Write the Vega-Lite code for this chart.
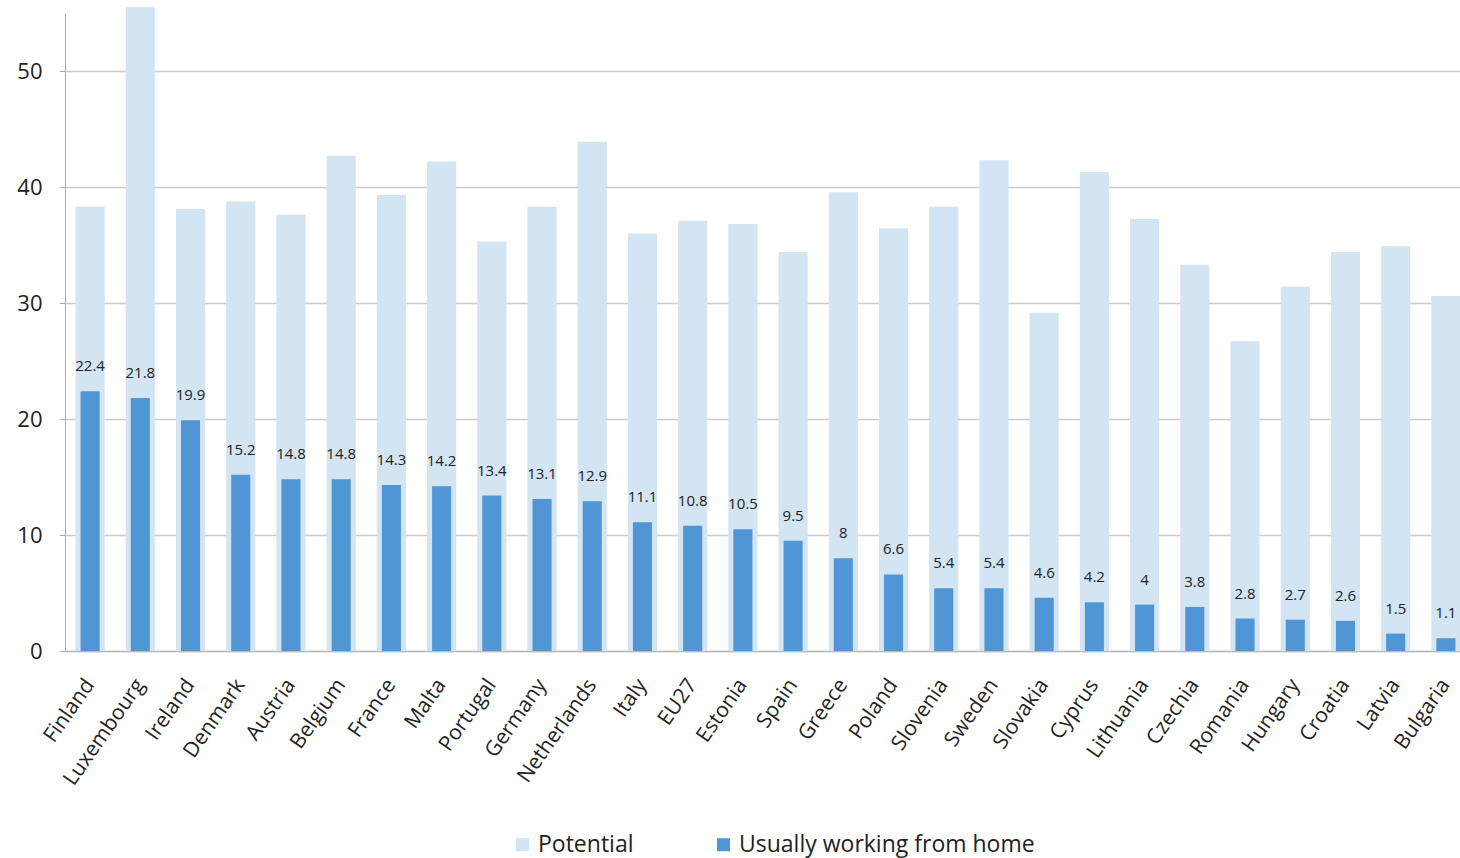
{
  "$schema": "https://vega.github.io/schema/vega-lite/v6.json",
  "autosize": {"type": "none"},
  "padding": {"left": 65, "top": 13, "right": 0, "bottom": 207},
  "width": 1406,
  "height": 638,
  "background": "white",
  "config": {"view": {"stroke": null}},
  "data": {"values": [
    {"country": "Finland", "potential": 38.3, "home": 22.4},
    {"country": "Luxembourg", "potential": 55.5, "home": 21.8},
    {"country": "Ireland", "potential": 38.1, "home": 19.9},
    {"country": "Denmark", "potential": 38.75, "home": 15.2},
    {"country": "Austria", "potential": 37.6, "home": 14.8},
    {"country": "Belgium", "potential": 42.7, "home": 14.8},
    {"country": "France", "potential": 39.3, "home": 14.3},
    {"country": "Malta", "potential": 42.2, "home": 14.2},
    {"country": "Portugal", "potential": 35.3, "home": 13.4},
    {"country": "Germany", "potential": 38.3, "home": 13.1},
    {"country": "Netherlands", "potential": 43.9, "home": 12.9},
    {"country": "Italy", "potential": 36.0, "home": 11.1},
    {"country": "EU27", "potential": 37.1, "home": 10.8},
    {"country": "Estonia", "potential": 36.8, "home": 10.5},
    {"country": "Spain", "potential": 34.4, "home": 9.5},
    {"country": "Greece", "potential": 39.55, "home": 8},
    {"country": "Poland", "potential": 36.45, "home": 6.6},
    {"country": "Slovenia", "potential": 38.3, "home": 5.4},
    {"country": "Sweden", "potential": 42.3, "home": 5.4},
    {"country": "Slovakia", "potential": 29.15, "home": 4.6},
    {"country": "Cyprus", "potential": 41.3, "home": 4.2},
    {"country": "Lithuania", "potential": 37.25, "home": 4},
    {"country": "Czechia", "potential": 33.3, "home": 3.8},
    {"country": "Romania", "potential": 26.7, "home": 2.8},
    {"country": "Hungary", "potential": 31.4, "home": 2.7},
    {"country": "Croatia", "potential": 34.4, "home": 2.6},
    {"country": "Latvia", "potential": 34.9, "home": 1.5},
    {"country": "Bulgaria", "potential": 30.6, "home": 1.1}
  ]},
  "encoding": {
    "x": {
      "field": "country", "type": "nominal", "sort": null, "title": null,
      "scale": {"paddingInner": 0, "paddingOuter": 0},
      "axis": {
        "labelAngle": -55, "labelFont": "Open Sans", "labelFontSize": 21, "labelColor": "#222",
        "labelPadding": 30, "ticks": false, "domainColor": "#bbbbbb", "domainWidth": 1.5
      }
    }
  },
  "layer": [
    {
      "mark": {"type": "bar", "width": {"band": 0.58}},
      "encoding": {
        "y": {
          "field": "potential", "type": "quantitative", "title": null,
          "scale": {"domain": [0, 55], "nice": false},
          "axis": {
            "values": [0, 10, 20, 30, 40, 50], "labelFont": "Open Sans", "labelFontSize": 22,
            "labelColor": "#222", "labelPadding": 17, "tickSize": 6, "tickColor": "#aaaaaa",
            "domainColor": "#aaaaaa", "gridColor": "#cccccc", "gridWidth": 1.5
          }
        },
        "color": {
          "datum": "Potential", "type": "nominal",
          "scale": {"domain": ["Potential", "Usually working from home"], "range": ["#d3e4f3", "#5095d4"]},
          "legend": {
            "title": null, "orient": "none", "direction": "horizontal",
            "legendX": 446, "legendY": 820, "symbolType": "square", "symbolSize": 169,
            "labelFont": "Open Sans", "labelFontSize": 23, "labelColor": "#222", "labelLimit": 600,
            "columnPadding": 78, "labelOffset": 4, "padding": 0
          }
        }
      }
    },
    {
      "mark": {"type": "bar", "width": {"band": 0.38}},
      "encoding": {
        "y": {"field": "home", "type": "quantitative"},
        "color": {"datum": "Usually working from home", "type": "nominal"}
      }
    },
    {
      "mark": {"type": "text", "dy": -25, "font": "Open Sans", "fontSize": 15, "color": "#222"},
      "encoding": {
        "y": {"field": "home", "type": "quantitative"},
        "text": {"field": "home", "type": "quantitative"}
      }
    }
  ]
}
